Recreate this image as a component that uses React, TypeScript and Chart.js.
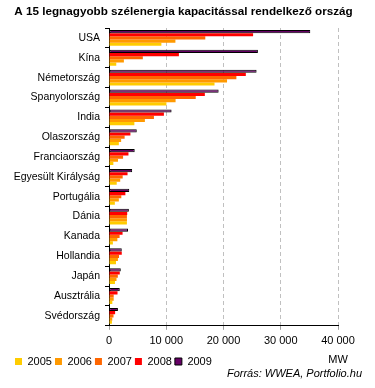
import { useEffect, useRef } from 'react';
import { Chart, registerables } from 'chart.js';

Chart.register(...registerables);

const titleText = 'A 15 legnagyobb szélenergia kapacitással rendelkező ország';
const countries = [
  'USA', 'Kína', 'Németország', 'Spanyolország', 'India', 'Olaszország', 'Franciaország',
  'Egyesült Királyság', 'Portugália', 'Dánia', 'Kanada', 'Hollandia', 'Japán', 'Ausztrália', 'Svédország',
];
const v2005 = [9150, 1270, 18430, 10030, 4430, 1720, 760, 1350, 1020, 3130, 680, 1220, 1040, 580, 510];
const v2006 = [11600, 2600, 20620, 11630, 6270, 2120, 1570, 1960, 1720, 3140, 1460, 1560, 1310, 820, 570];
const v2007 = [16820, 5910, 22250, 15150, 7850, 2730, 2460, 2390, 2150, 3130, 1850, 1750, 1540, 820, 790];
const v2008 = [25170, 12210, 23900, 16740, 9590, 3740, 3400, 3240, 2860, 3180, 2370, 2230, 1880, 1490, 1070];
const v2009 = [35160, 26010, 25780, 19150, 10930, 4850, 4490, 4050, 3540, 3470, 3320, 2230, 2060, 1880, 1560];
const years = ['2005', '2006', '2007', '2008', '2009'];
const colors = ['#FFCC00', '#FF9900', '#FF6600', '#FF0000', '#660066'];
const xMax = 40000;
const xStep = 10000;
const unitLabel = 'MW';
const sourceText = 'Forrás: WWEA, Portfolio.hu';

const FONT = 'Arial, "Liberation Sans", sans-serif';

const fmt = (v: number) => String(v).replace(/\B(?=(\d{3})+(?!\d))/g, ' ');

const notesPlugin = {
  id: 'notes',
  afterDraw(chart: any) {
    const { ctx, scales } = chart;
    ctx.save();
    ctx.fillStyle = '#000';
    ctx.textBaseline = 'middle';
    ctx.font = `bold 11.7px ${FONT}`;
    ctx.textAlign = 'center';
    ctx.fillText(titleText, chart.width / 2 - 4, 12);
    ctx.font = `11px ${FONT}`;
    ctx.fillText(unitLabel, scales.x.right, chart.height - 28);
    ctx.font = `italic 11px ${FONT}`;
    ctx.textAlign = 'right';
    ctx.fillText(sourceText, chart.width - 13, chart.height - 14);
    ctx.restore();
  },
};

export default function App() {
  const ref = useRef<HTMLCanvasElement>(null);
  useEffect(() => {
    const series = [v2005, v2006, v2007, v2008, v2009];
    const datasets = years
      .map((y, i) => ({
        label: y,
        data: series[i],
        backgroundColor: colors[i],
        borderColor: i === 4 ? '#000000' : colors[i],
        borderWidth: i === 4 ? 1 : 0,
        borderSkipped: false as const,
        categoryPercentage: 0.8,
        barPercentage: 1.0,
      }))
      .reverse();
    const chart = new Chart(ref.current!, {
      type: 'bar',
      data: { labels: countries, datasets },
      plugins: [notesPlugin],
      options: {
        indexAxis: 'y',
        responsive: false,
        animation: false,
        devicePixelRatio: 1,
        layout: { padding: { left: 12, right: 37, top: 28, bottom: 11 } },
        plugins: {
          title: { display: false },
          legend: {
            display: true,
            position: 'bottom',
            align: 'start',
            reverse: true,
            labels: {
              boxWidth: 7,
              boxHeight: 7,
              padding: 3,
              color: '#000',
              font: { family: FONT, size: 11 },
            },
          },
          tooltip: { enabled: false },
        },
        scales: {
          x: {
            min: 0,
            max: xMax,
            ticks: {
              stepSize: xStep,
              color: '#000',
              font: { family: FONT, size: 11 },
              padding: 5,
              maxRotation: 0,
              callback: (v: any) => fmt(Number(v)),
            },
            grid: {
              color: '#C0C0C0',
              tickColor: '#A0A0A0',
              tickLength: 4,
              drawTicks: true,
            },
            border: { color: '#000', width: 1, dash: [4, 3] },
          },
          y: {
            afterFit: (scale: any) => { scale.width = 97; },
            ticks: {
              color: '#000',
              font: { family: FONT, size: 10.5 },
              padding: 5,
              autoSkip: false,
            },
            grid: {
              display: true,
              drawOnChartArea: false,
              drawTicks: true,
              tickLength: 4,
              color: '#000',
              tickColor: '#000',
              offset: true,
            },
            border: { color: '#000', width: 1 },
          },
        },
      },
    });
    return () => chart.destroy();
  }, []);
  return (
    <div style={{ position: 'fixed', left: 0, top: 0, width: 375, height: 388, background: '#fff' }}>
      <canvas ref={ref} width={375} height={388} style={{ display: 'block' }} />
    </div>
  );
}
